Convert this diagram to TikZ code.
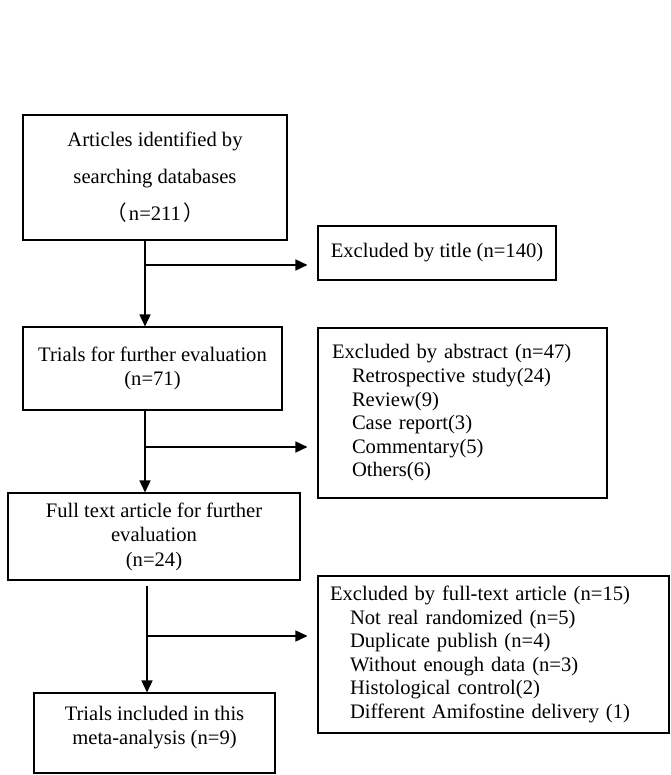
\documentclass[tikz,border=0pt]{standalone}
\usepackage{fontspec}
\setmainfont{Liberation Serif}
\newfontfamily\cjk{Noto Sans CJK SC}
\usetikzlibrary{positioning, arrows.meta}

\begin{document}
\begin{tikzpicture}[x=1pt, y=-1pt, >={Triangle[length=12pt, width=11pt]},
    box/.style={draw, line width=1.1pt, inner sep=0pt, font=\fontsize{20.6}{24.5}\selectfont},
    list/.style={align=left, inner xsep=#1, font=\fontsize{20.6}{23.6}\selectfont},
    flow/.style={->, line width=1.6pt}]
    \useasboundingbox (0,0) rectangle (670,775);

    % Main column
    \node[box, minimum width=264pt, minimum height=125pt, align=center, font=\fontsize{20.6}{37}\selectfont]
        (found) at (155,177.5) {Articles identified by\\searching databases\\{\cjk （}\kern2pt n=211\kern2pt{\cjk ）}};
    \node[box, minimum width=259pt, minimum height=83pt, align=center]
        (trials) at (152.5,368.5) {Trials for further evaluation\\(n=71)};
    \node[box, minimum width=292pt, minimum height=87pt, align=center]
        (fulltext) at (154,536.5) {Full text article for further\\evaluation\\(n=24)};
    \node[box, minimum width=241pt, minimum height=80pt, align=center]
        (included) at (154.5,733) {Trials included in this\\meta-analysis (n=9)\\[-9pt]\mbox{}};

    % Exclusions
    \node[box, minimum width=238pt, minimum height=54pt]
        (bytitle) at (437,253) {Excluded by title (n=140)};
    \node[box, list=14pt, text width=261pt, minimum height=170pt]
        (byabstract) at (462.5,413) {Excluded by abstract (n=47)\\
        \hspace*{20pt}Retrospective study(24)\\
        \hspace*{20pt}Review(9)\\
        \hspace*{20pt}Case report(3)\\
        \hspace*{20pt}Commentary(5)\\
        \hspace*{20pt}Others(6)};
    \node[box, list=12pt, text width=327pt, minimum height=157pt]
        (byfull) at (493.5,654.5) {Excluded by full-text article (n=15)\\
        \hspace*{20pt}Not real randomized (n=5)\\
        \hspace*{20pt}Duplicate publish (n=4)\\
        \hspace*{20pt}Without enough data (n=3)\\
        \hspace*{20pt}Histological control(2)\\
        \hspace*{20pt}Different Amifostine delivery (1)};

    % Arrows
    \coordinate (split1) at (145,265);
    \coordinate (split2) at (145,447);
    \coordinate (split3) at (147,636);
    \draw[flow] (split1 |- found.south) -- (split1 |- trials.north);
    \draw[flow, shorten >=10pt] (split1) -- (split1 -| bytitle.west);
    \draw[flow] (split2 |- trials.south) -- (split2 |- fulltext.north);
    \draw[flow, shorten >=10pt] (split2) -- (split2 -| byabstract.west);
    \draw[flow, shorten <=5pt] (split3 |- fulltext.south) -- (split3 |- included.north);
    \draw[flow, shorten >=10pt] (split3) -- (split3 -| byfull.west);
\end{tikzpicture}
\end{document}
